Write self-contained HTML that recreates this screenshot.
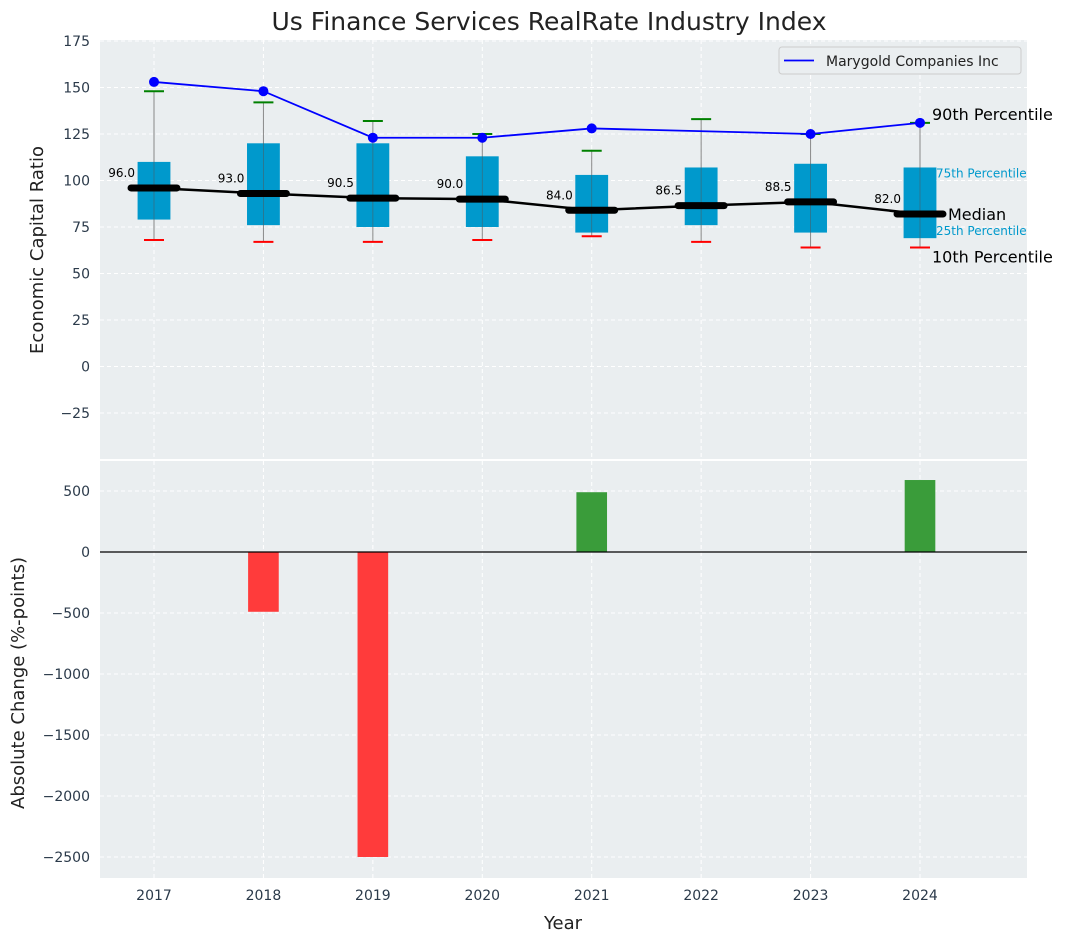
<!DOCTYPE html>
<html><head><meta charset="utf-8"><style>
body{margin:0;background:#fff;font-family:"Liberation Sans","DejaVu Sans",sans-serif}
svg text{font-family:"DejaVu Sans","Liberation Sans",sans-serif}
</style></head><body>
<svg id="c" width="1067" height="942" viewBox="0 0 1067 942" xmlns="http://www.w3.org/2000/svg"></svg>
<script>
const years=[2017,2018,2019,2020,2021,2022,2023,2024];
const p10=[68,67,67,68,70,67,64,64];
const q1=[79,76,75,75,72,76,72,69];
const med=[96,93,90.5,90,84,86.5,88.5,82];
const q3=[110,120,120,113,103,107,109,107];
const p90=[148,142,132,125,116,133,125,131];
const company=[153,148,123,123,128,null,125,131];
const change=[0,-490,-2500,0,490,0,0,590];
const topTicks=[175,150,125,100,75,50,25,0,-25];
const botTicks=[500,0,-500,-1000,-1500,-2000,-2500];

const NS="http://www.w3.org/2000/svg";
const svg=document.getElementById('c');
function el(t,a,p){const e=document.createElementNS(NS,t);for(const k in a)e.setAttribute(k,a[k]);(p||svg).appendChild(e);return e;}
const L=100,R=1027;
const X=y=>154+(y-2017)*(920-154)/7;
const Y1=v=>41+(175-v)*(413-41)/200;
const Y2=v=>552-v*(552-491)/500;
const T1=40,B1=459,T2=461,B2=878;

let bg=el('rect',{x:L,y:T1,width:R-L,height:B1-T1,fill:'#eaeef0'});

let bg2=el('rect',{x:L,y:T2,width:R-L,height:B2-T2,fill:'#eaeef0'});


years.forEach(y=>{
 el('line',{x1:X(y),x2:X(y),y1:T1,y2:B1,stroke:'#fff','stroke-dasharray':'4,3','stroke-width':1});
 el('line',{x1:X(y),x2:X(y),y1:T2,y2:B2,stroke:'#fff','stroke-dasharray':'4,3','stroke-width':1});
});
topTicks.forEach(t=>{
 el('line',{x1:L,x2:R,y1:Y1(t),y2:Y1(t),stroke:'#fff','stroke-dasharray':'4,3'});
 const tx=el('text',{x:L-10,y:Y1(t)+5,'text-anchor':'end','font-size':14,fill:'#2b3a4a'});
 tx.textContent=t<0?'\u2212'+(-t):t;
 
});
botTicks.forEach(t=>{
 el('line',{x1:L,x2:R,y1:Y2(t),y2:Y2(t),stroke:'#fff','stroke-dasharray':'4,3'});
 const tx=el('text',{x:L-10,y:Y2(t)+5,'text-anchor':'end','font-size':14,fill:'#2b3a4a'});
 tx.textContent=t<0?'\u2212'+(-t):t;
 
});

const bw=0.15*(920-154)/7, mw=0.21*(920-154)/7;
years.forEach((y,i)=>{
 const x=X(y);
 let w=el('line',{x1:x,x2:x,y1:Y1(p10[i]),y2:Y1(p90[i]),stroke:'#888','stroke-width':1});
 
 let b=el('rect',{x:x-bw,y:Y1(q3[i]),width:2*bw,height:Y1(q1[i])-Y1(q3[i]),fill:'#0099cc'});
 
 el('line',{x1:x,x2:x,y1:Y1(q1[i]),y2:Y1(q3[i]),stroke:'#555','stroke-width':0.8,opacity:0.6});
 el('line',{x1:x-10,x2:x+10,y1:Y1(p10[i]),y2:Y1(p10[i]),stroke:'red','stroke-width':2});
 el('line',{x1:x-10,x2:x+10,y1:Y1(p90[i]),y2:Y1(p90[i]),stroke:'green','stroke-width':2});
});
let pts=years.map((y,i)=>X(y)+','+Y1(med[i])).join(' ');
let ml=el('polyline',{points:pts,fill:'none',stroke:'#000','stroke-width':2.5});

years.forEach((y,i)=>{
 const x=X(y);
 let m=el('line',{x1:x-mw,x2:x+mw,y1:Y1(med[i]),y2:Y1(med[i]),stroke:'#000','stroke-width':7,'stroke-linecap':'round'});
 
 let t=el('text',{x:x-19,y:Y1(med[i])-11,'text-anchor':'end','font-size':12,fill:'#000'});
 t.textContent=med[i].toFixed(1);
 
});
const cp=years.map((y,i)=>company[i]==null?null:[X(y),Y1(company[i])]).filter(p=>p);
let cl=el('polyline',{points:cp.map(p=>p.join(',')).join(' '),fill:'none',stroke:'blue','stroke-width':1.8});

cp.forEach(p=>{let c=el('circle',{cx:p[0],cy:p[1],r:5,fill:'blue'});
 });

const lx=X(2024), li=7;
[['90th Percentile',lx+12,Y1(p90[li])-3,16,'#000'],['75th Percentile',lx+16,Y1(q3[li])+10,12,'#0099cc'],
 ['Median',lx+28,Y1(med[li])+6,16,'#000'],['25th Percentile',lx+16,Y1(q1[li])-3,12,'#0099cc'],
 ['10th Percentile',lx+12,Y1(p10[li])+15,16,'#000']].forEach(a=>{
 let t=el('text',{x:a[1],y:a[2],'font-size':a[3],fill:a[4]});t.textContent=a[0];
 
});

let lg=el('g',{});
el('rect',{x:779,y:47,width:242,height:27,rx:3,fill:'#eaeef0',stroke:'#ccc'},lg);
el('line',{x1:784,x2:814,y1:60.5,y2:60.5,stroke:'blue','stroke-width':1.8},lg);
let lt=el('text',{x:826,y:66,'font-size':14,fill:'#222'},lg);lt.textContent='Marygold Companies Inc';

years.forEach((y,i)=>{
 if(change[i]===0)return;
 const x=X(y),w=0.28*(920-154)/7;
 const y0=Y2(Math.max(0,change[i])),y1=Y2(Math.min(0,change[i]));
 let b=el('rect',{x:x-w/2,y:y0,width:w,height:y1-y0,fill:change[i]>0?'#3a9c3a':'#ff3b3b'});
 
});
el('line',{x1:L,x2:R,y1:Y2(0),y2:Y2(0),stroke:'#000','stroke-width':1.2});

years.forEach(y=>{let t=el('text',{x:X(y),y:900,'text-anchor':'middle','font-size':14,fill:'#2b3a4a'});t.textContent=y;
 });

let tt=el('text',{x:549,y:30,'text-anchor':'middle','font-size':25,fill:'#222'});tt.textContent='Us Finance Services RealRate Industry Index';

let xt=el('text',{x:563,y:929,'text-anchor':'middle','font-size':18,fill:'#222'});xt.textContent='Year';

let y1t=el('text',{x:0,y:0,'text-anchor':'middle','font-size':18,fill:'#222',transform:'translate(43,250) rotate(-90)'});y1t.textContent='Economic Capital Ratio';

let y2t=el('text',{x:0,y:0,'text-anchor':'middle','font-size':18,fill:'#222',transform:'translate(24,683) rotate(-90)'});y2t.textContent='Absolute Change (%-points)';

</script>
</body></html>
